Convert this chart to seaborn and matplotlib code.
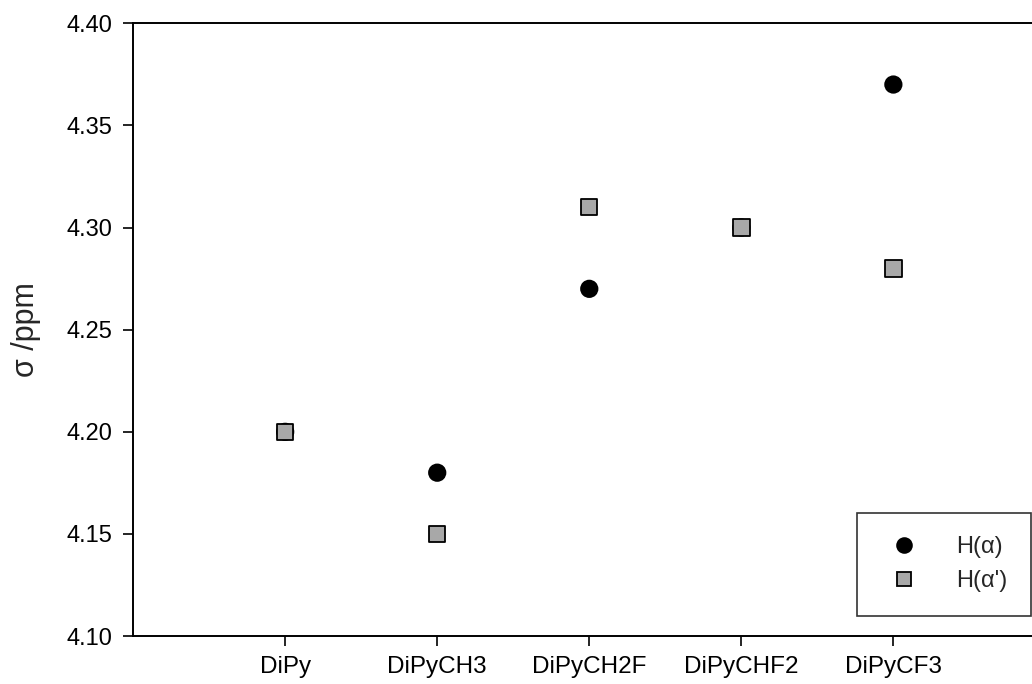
import matplotlib
matplotlib.use("Agg")
import matplotlib.pyplot as plt
import seaborn as sns
import pandas as pd

molecules = ['DiPy', 'DiPyCH3', 'DiPyCH2F', 'DiPyCHF2', 'DiPyCF3']
h_alpha = [4.20, 4.18, 4.27, 4.30, 4.37]
h_alpha_prime = [4.20, 4.15, 4.31, 4.30, 4.28]
series_names = ['H(α)', "H(α')"]


def main():
    sns.set_theme(style="white")
    plt.rcParams['font.family'] = ['Liberation Sans', 'DejaVu Sans']

    df = pd.DataFrame({
        'molecule': molecules * 2,
        'sigma': h_alpha + h_alpha_prime,
        'site': [series_names[0]] * len(molecules) + [series_names[1]] * len(molecules),
    })

    fig = plt.figure(figsize=(10.32, 6.84), dpi=100)
    ax = fig.add_axes([0.129, 0.070, 0.884, 0.896])

    sns.scatterplot(data=df, x='molecule', y='sigma', hue='site', style='site',
                    palette={series_names[0]: 'black', series_names[1]: '#a8a8a8'},
                    markers={series_names[0]: 'o', series_names[1]: 's'},
                    s=140, edgecolor='black', linewidth=1.3, ax=ax, zorder=3)

    ax.set_xlim(-1, 5)
    ax.set_ylim(4.10, 4.40)
    ax.set_yticks([4.10, 4.15, 4.20, 4.25, 4.30, 4.35, 4.40])
    ax.set_yticklabels([f"{v:.2f}" for v in ax.get_yticks()])
    ax.tick_params(axis='both', direction='out', length=7, width=1.2,
                   labelsize=17, colors='black', left=True, bottom=True)
    ax.tick_params(axis='x', pad=7, labelsize=17.5)
    ax.tick_params(axis='y', pad=8)
    ax.set_xlabel('')
    ax.set_ylabel('σ /ppm', fontsize=22, labelpad=18)

    for sp in ['left', 'bottom', 'top']:
        ax.spines[sp].set_color('black')
        ax.spines[sp].set_linewidth(1.4)
    ax.spines['right'].set_visible(False)

    leg = ax.legend(loc='lower right', bbox_to_anchor=(0.984, 0.033),
                    fontsize=17, frameon=True, fancybox=False,
                    borderpad=1.0, handletextpad=1.2, labelspacing=0.5,
                    borderaxespad=0, markerscale=0.9)
    leg.get_frame().set_edgecolor('black')
    leg.get_frame().set_linewidth(1.2)
    leg.set_title(None)

    fig.savefig('out.png', dpi=100)
    plt.close(fig)


if __name__ == '__main__':
    main()
